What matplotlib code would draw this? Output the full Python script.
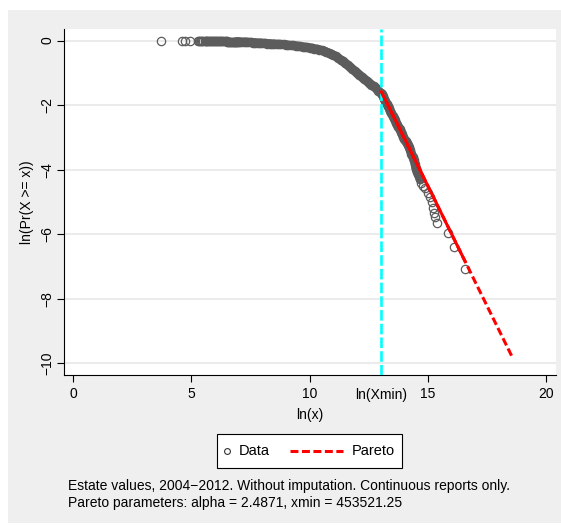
import matplotlib
matplotlib.use('Agg')
import matplotlib.pyplot as plt
from matplotlib.patches import Rectangle
from matplotlib.lines import Line2D

plt.rcParams['font.family'] = ['Liberation Sans', 'DejaVu Sans']

# ln(x) and ln(Pr(X >= x))
data_x = [3.72, 4.58, 4.72, 4.93, 5.28, 5.33, 5.38, 5.42, 5.45, 5.50, 5.55, 5.60,
          5.62, 5.66, 5.70, 5.74, 5.78, 5.82, 5.85, 5.90, 5.95, 6.00, 6.05, 6.08,
          6.12, 6.17, 6.22, 6.26, 6.30, 6.35, 6.40, 6.44, 6.48, 6.52, 6.55, 6.58,
          6.62, 6.66, 6.70, 6.74, 6.78, 6.82, 6.85, 6.88, 6.92, 6.96,
          7.00, 7.10, 7.20, 7.30, 7.40, 7.50, 7.60, 7.70, 7.80, 7.90, 8.00,
          8.10, 8.20, 8.30, 8.40, 8.50, 8.60, 8.70, 8.80, 8.90, 9.00, 9.10, 9.20,
          9.30, 9.40, 9.50, 9.60, 9.70, 9.80, 9.90, 10.00, 10.10, 10.20, 10.30,
          10.40, 10.50, 10.60, 10.70, 10.80, 10.90, 11.00, 11.10, 11.20, 11.30,
          11.40, 11.50, 11.60, 11.70, 11.80, 11.90, 12.00, 12.10, 12.20, 12.30,
          12.40, 12.50, 12.60, 12.70, 12.80, 12.90, 13.00, 13.05, 13.10, 13.15,
          13.20, 13.25, 13.30, 13.35, 13.40, 13.45, 13.50, 13.55, 13.60, 13.65,
          13.70, 13.75, 13.80, 13.85, 13.90, 13.95, 14.00, 14.05, 14.10, 14.15,
          14.20, 14.25, 14.30, 14.35, 14.40, 14.45, 14.48, 14.52, 14.56, 14.62,
          14.66, 14.72, 14.80, 14.87, 15.00, 15.08, 15.15, 15.22, 15.26, 15.29,
          15.39, 15.83, 16.11, 16.58]
data_y = [0.00, 0.00, 0.00, 0.00, -0.01, -0.01, -0.01, -0.01, -0.01, -0.01, -0.01, -0.01,
          -0.01, -0.01, -0.01, -0.01, -0.01, -0.01, -0.01, -0.02, -0.02, -0.02, -0.02, -0.02,
          -0.02, -0.02, -0.02, -0.02, -0.02, -0.02, -0.02, -0.02, -0.02, -0.03, -0.03, -0.03,
          -0.03, -0.03, -0.03, -0.03, -0.03, -0.03, -0.03, -0.03, -0.03, -0.03,
          -0.03, -0.04, -0.04, -0.04, -0.05, -0.05, -0.06, -0.06, -0.07, -0.07, -0.08,
          -0.08, -0.09, -0.09, -0.10, -0.10, -0.11, -0.11, -0.12, -0.12, -0.13, -0.14, -0.15,
          -0.15, -0.16, -0.17, -0.18, -0.19, -0.20, -0.21, -0.22, -0.23, -0.25, -0.26,
          -0.28, -0.30, -0.32, -0.35, -0.38, -0.41, -0.45, -0.49, -0.54, -0.59,
          -0.64, -0.70, -0.76, -0.82, -0.88, -0.94, -1.00, -1.06, -1.12, -1.18,
          -1.24, -1.30, -1.36, -1.42, -1.48, -1.55, -1.62, -1.66, -1.73, -1.80,
          -1.88, -1.95, -2.02, -2.10, -2.17, -2.25, -2.32, -2.40, -2.47, -2.55,
          -2.60, -2.67, -2.74, -2.82, -2.90, -2.98, -3.06, -3.12, -3.17, -3.22,
          -3.30, -3.40, -3.50, -3.60, -3.70, -3.82, -3.95, -4.05, -4.12, -4.20,
          -4.30, -4.40, -4.50, -4.58, -4.73, -4.85, -4.99, -5.20, -5.35, -5.47,
          -5.66, -5.97, -6.40, -7.07]
# where the circles are packed so tightly they read as one solid band
band_start, band_end = 44, 141

# fitted Pareto line: start at ln(xmin), end of data, end of extrapolation
pareto_x = [13.025, 16.56, 18.55]
pareto_y = [-1.58, -6.83, -9.79]
ln_xmin = 13.025

xticks = [0, 5, 10, ln_xmin, 15, 20]
xticklabels = ['0', '5', '10', 'ln(Xmin)', '15', '20']
yticks = [0, -2, -4, -6, -8, -10]

W, H = 561, 532
fig = plt.figure(figsize=(W / 100, H / 100), dpi=100)
fig.patch.set_facecolor('white')
fig.patches.append(Rectangle((8 / W, 1 - 523 / H), 1, (523 - 10) / H,
                             transform=fig.transFigure, facecolor='#efefef',
                             edgecolor='none', zorder=-10))

ax = fig.add_axes([64 / W, 1 - 375 / H, (556 - 64) / W, (375 - 29) / H])
ax.set_facecolor('white')
for s in ['top', 'right']:
    ax.spines[s].set_visible(False)
for s in ['left', 'bottom']:
    ax.spines[s].set_linewidth(0.8)

ax.set_xlim(-0.39, 20.41)
ax.set_ylim(-10.36, 0.36)
ax.set_yticks(yticks)
ax.set_yticklabels([str(v).replace('-', '\u2212') for v in yticks], rotation=90, va='center')
ax.set_xticks(xticks)
ax.set_xticklabels(xticklabels)
ax.tick_params(labelsize=10, length=5, width=0.8, pad=4)
ax.tick_params(axis='y', pad=2)
ax.get_xticklines()[6].set_visible(False)
ax.get_xticklines()[7].set_visible(False)
for v in yticks:
    ax.axhline(v, color='#e6e6e6', lw=1.1, zorder=0)

ax.plot(data_x[band_start:band_end], data_y[band_start:band_end], color='#5e5e5e',
        lw=6.4, solid_capstyle='round', zorder=2)
ax.plot(data_x, data_y, ls='none', marker='o', ms=6, mfc='none', mec='#5c5c5c', mew=0.9, zorder=2)
ax.axvline(ln_xmin, color='#00ffff', lw=1.9, dashes=(4, 1.2), zorder=3)
ax.plot(pareto_x, pareto_y, color='red', lw=2.2, dashes=(2.6, 1.15), zorder=4)
ax.plot(pareto_x[:2], pareto_y[:2], color='red', lw=2.2, zorder=5)

ax.set_xlabel('ln(x)', fontsize=10)
ax.xaxis.set_label_coords(0.5, -0.095)
ax.set_ylabel('ln(Pr(X >= x))', fontsize=10)
ax.yaxis.set_label_coords(-0.06, 0.5)

# legend box drawn by hand so the marker key stays short and the line key long
fig.patches.append(Rectangle((217 / W, 1 - 468 / H), (402 - 217) / W, (468 - 434) / H,
                             transform=fig.transFigure, facecolor='white',
                             edgecolor='black', lw=0.8))
ly = 1 - 451 / H
fig.add_artist(Line2D([227 / W], [ly], transform=fig.transFigure, ls='none', marker='o',
                      ms=4.2, mfc='none', mec='#333333', mew=0.8))
fig.text(239 / W, ly, 'Data', fontsize=10.5, va='center', ha='left')
fig.add_artist(Line2D([290 / W, 343 / W], [ly, ly], transform=fig.transFigure,
                      color='red', lw=2.2, dashes=(2.6, 1.15)))
fig.text(352 / W, ly, 'Pareto', fontsize=10.5, va='center', ha='left')

fig.text(68 / W, 1 - 486 / H, 'Estate values, 2004\u22122012. Without imputation. Continuous reports only.',
         fontsize=10, va='center', ha='left')
fig.text(68 / W, 1 - 503 / H, 'Pareto parameters: alpha = 2.4871, xmin = 453521.25',
         fontsize=10, va='center', ha='left')

fig.savefig('out.png', dpi=100, facecolor=fig.get_facecolor())
